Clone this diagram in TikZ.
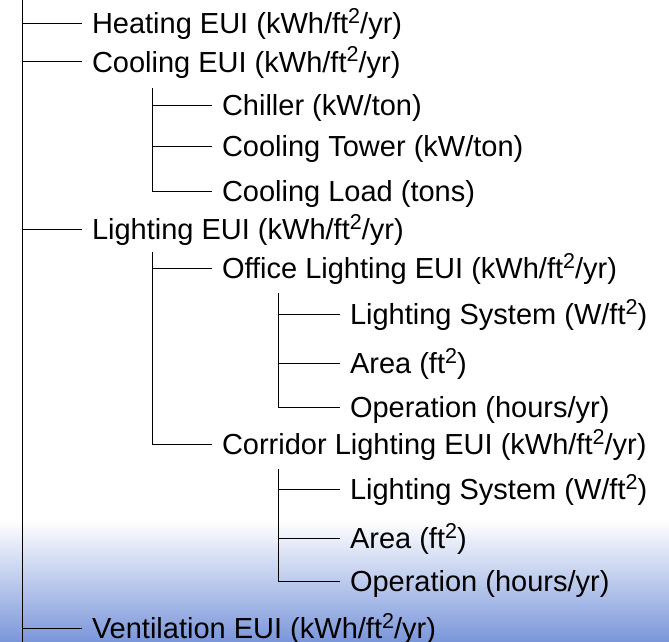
\documentclass[tikz,border=0pt]{standalone}
\usepackage{fontspec}
\setmainfont{Liberation Sans}
\newcommand{\sqr}{\raisebox{10pt}{\fontsize{21.5}{22}\selectfont 2}}
\definecolor{gradmid}{RGB}{232,236,248}
\definecolor{gradbot}{RGB}{122,150,218}
\begin{document}
\begin{tikzpicture}[x=1pt,y=-1pt,line width=1pt,
  lbl/.style={anchor=west, inner xsep=9.5pt, inner ysep=0pt, text height=20pt, text depth=0pt,
    font=\fontsize{29}{32}\selectfont}]
\useasboundingbox (0,0) rectangle (669,642);
\fill[top color=white, middle color=gradmid, bottom color=gradbot] (0,520) rectangle (669,642);
% level 1
\coordinate (r0) at (22,0);
\coordinate (r1) at (22,642);
\draw (r0) -- (r1);
\node[lbl] (heat) at (82,24) {Heating EUI (kWh/ft\sqr/yr)};
\node[lbl] (cool) at (82,62) {Cooling EUI (kWh/ft\sqr/yr)};
\node[lbl] (light) at (82,229) {Lighting EUI (kWh/ft\sqr/yr)};
\node[lbl] (vent) at (82,628) {Ventilation EUI (kWh/ft\sqr/yr)};
\foreach \n in {heat,cool,light,vent} \draw (\n.west -| r0) -- (\n.west);
% cooling children
\coordinate (c0) at (152,88);
\node[lbl] (chill) at (212,105) {Chiller (kW/ton)};
\node[lbl] (tower) at (212,146) {Cooling Tower (kW/ton)};
\node[lbl] (load) at (212,191) {Cooling Load (tons)};
\draw (c0) -- (load.west -| c0) -- (load.west);
\foreach \n in {chill,tower} \draw (\n.west -| c0) -- (\n.west);
% lighting children
\coordinate (l0) at (152,252);
\node[lbl] (office) at (212,268) {Office Lighting EUI (kWh/ft\sqr/yr)};
\node[lbl] (corr) at (212,444) {Corridor Lighting EUI (kWh/ft\sqr/yr)};
\draw (l0) -- (corr.west -| l0) -- (corr.west);
\draw (office.west -| l0) -- (office.west);
% office children
\coordinate (o0) at (278,293);
\node[lbl] (osys) at (340,314) {Lighting System (W/ft\sqr)};
\node[lbl] (oarea) at (340,363) {Area (ft\sqr)};
\node[lbl] (oop) at (340,407) {Operation (hours/yr)};
\draw (o0) -- (oop.west -| o0) -- (oop.west);
\foreach \n in {osys,oarea} \draw (\n.west -| o0) -- (\n.west);
% corridor children
\coordinate (k0) at (278,469);
\node[lbl] (ksys) at (340,489) {Lighting System (W/ft\sqr)};
\node[lbl] (karea) at (340,538) {Area (ft\sqr)};
\node[lbl] (kop) at (340,581) {Operation (hours/yr)};
\draw (k0) -- (kop.west -| k0) -- (kop.west);
\foreach \n in {ksys,karea} \draw (\n.west -| k0) -- (\n.west);
\end{tikzpicture}
\end{document}
